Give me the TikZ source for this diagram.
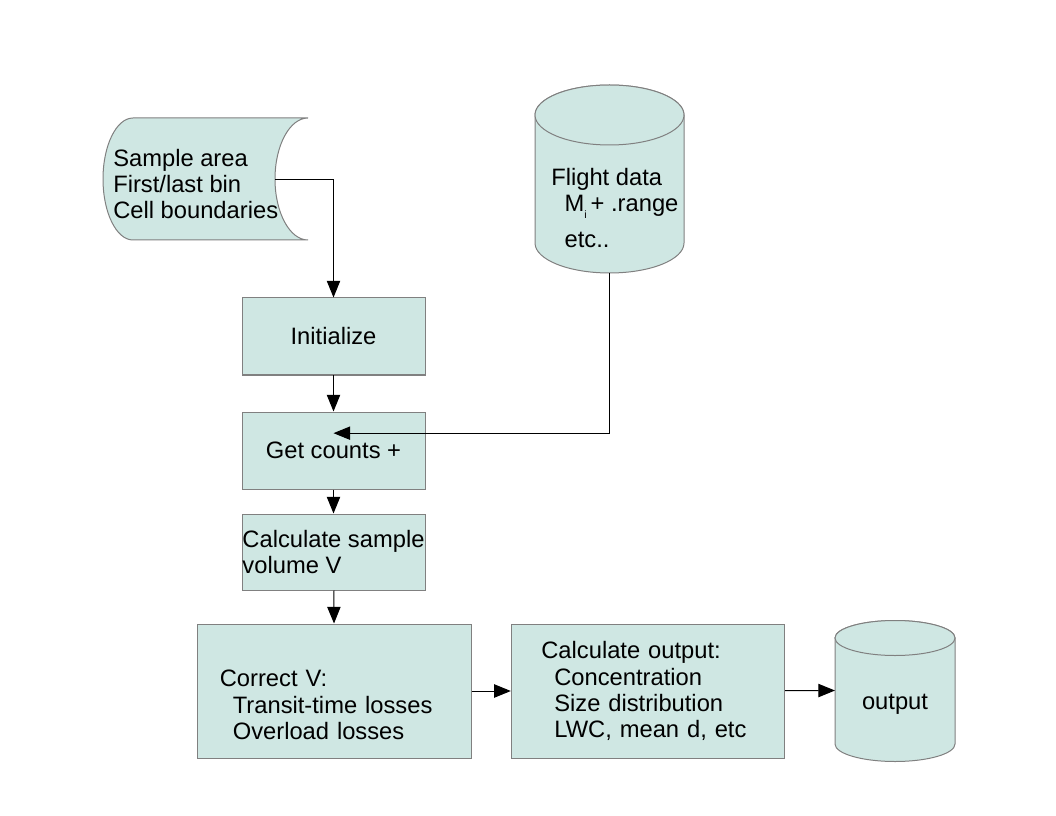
\documentclass[tikz,border=0pt]{standalone}
\usepackage{fontspec}
\setmainfont{Liberation Sans}
\usetikzlibrary{arrows.meta}

\definecolor{boxfill}{RGB}{207,231,227}
\definecolor{boxline}{RGB}{128,128,128}

\begin{document}
\begin{tikzpicture}[x=0.75pt, y=-0.75pt,
  every node/.style={font=\fontsize{17.8}{19.6}\selectfont},
  shapeline/.style={draw=boxline, fill=boxfill, line width=0.75pt},
  blk/.style={shapeline, rectangle, inner sep=0pt},
  smallblk/.style={blk, minimum width=137.25pt, minimum height=57.75pt},
  bigblk/.style={blk, minimum width=205pt, minimum height=100.5pt, align=left},
  flow/.style={-{Triangle[length=12.5pt, width=10pt]}, line width=0.75pt}]
  \useasboundingbox (0,0) rectangle (1056,816);

  % stored data
  \draw[shapeline] (133,118) -- (308,118)
    arc[start angle=270, end angle=90, x radius=33, y radius=61] -- (133,240)
    arc[start angle=90, end angle=270, x radius=30, y radius=61] -- cycle;
  \node[anchor=west, align=left, inner sep=0pt] (setup) at (113,184) {Sample area\\First/last bin\\Cell boundaries};
  \coordinate (setupR) at (275,180);

  % flight data
  \draw[shapeline] (535,115) -- (535,243)
    arc[start angle=180, end angle=0, x radius=74.5, y radius=30] -- (684,115)
    arc[start angle=0, end angle=-180, x radius=74.5, y radius=30] -- cycle;
  \draw[shapeline] (609.5,115) ellipse[x radius=74.5, y radius=30];
  \node[anchor=west, align=left, inner sep=0pt] (flight) at (551,208)
    {Flight data\\\hspace*{10pt}M\raisebox{-5pt}{\fontsize{8}{8}\selectfont i}\,+ .range\\[7pt]\hspace*{10pt}etc..};
  \coordinate (flightB) at (609.5,273);

  % process chain
  \node[smallblk] (init) at (333.5,336.5) {Initialize};
  \node[smallblk] (counts) at (333.5,450.5) {Get counts +};
  \node[smallblk, minimum height=57pt, align=left] (sample) at (333.5,552)
    {Calculate sample\\volume V};
  \node[bigblk, text width=172pt, inner xsep=16.5pt] (correct) at (334.5,691)
    {\strut\\Correct V:\\\hspace*{9.75pt}Transit-time losses\\\hspace*{9.75pt}Overload losses};
  \node[bigblk, text width=160pt, inner xsep=22.5pt] (calcout) at (648,691)
    {Calculate output:\\\hspace*{9.75pt}Concentration\\\hspace*{9.75pt}Size distribution\\\hspace*{9.75pt}LWC, mean d, etc};

  % output
  \draw[shapeline] (835,638) -- (835,744)
    arc[start angle=180, end angle=0, x radius=60, y radius=17.5] -- (955,638)
    arc[start angle=0, end angle=-180, x radius=60, y radius=17.5] -- cycle;
  \draw[shapeline] (895,638) ellipse[x radius=60, y radius=17.5];
  \node (output) at (895,704) {output};
  \coordinate (outW) at (835,690.5);

  \draw[flow] (setupR) -| (init);
  \draw[flow] (init) -- (counts);
  \draw[flow] (flightB) |- ([yshift=13pt]counts.center);
  \draw[flow] (counts) -- (sample);
  \draw[flow] (sample) -- (correct);
  \draw[flow] (correct) -- (calcout);
  \draw[flow] (calcout) -- (outW);
\end{tikzpicture}
\end{document}
